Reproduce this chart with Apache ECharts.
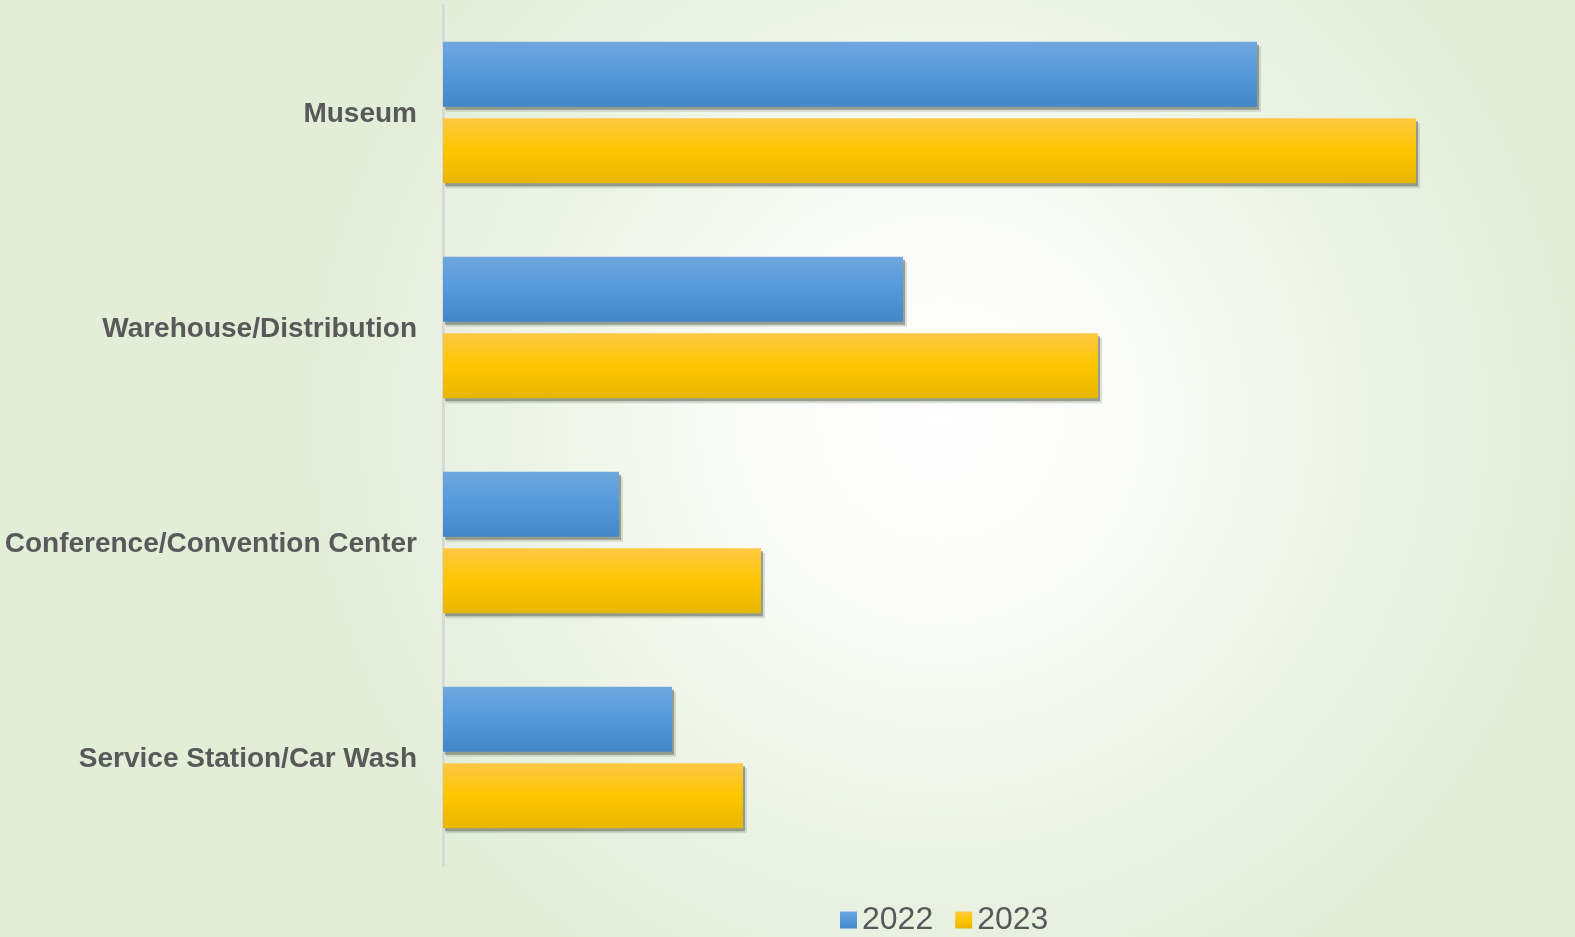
<!DOCTYPE html>
<html>
<head>
<meta charset="utf-8">
<script src="https://cdn.jsdelivr.net/npm/echarts@6/dist/echarts.min.js"></script>
<style>
  html, body { margin: 0; padding: 0; }
  #chart { width: 1575px; height: 937px; }
</style>
</head>
<body>
<div id="chart"></div>
<script>
// categories, top to bottom
const categories = ['Museum', 'Warehouse/Distribution', 'Conference/Convention Center', 'Service Station/Car Wash'];
const seriesNames = ['2022', '2023'];
// values
const values2022 = [814, 460, 176, 229];
const values2023 = [973, 655, 318, 300];

const BAR_W = 65;
const BAR_GAP = 0.18;

const chart = echarts.init(document.getElementById('chart'));

// vertical gradient for the bars
const grad = (top, mid, bottom) => new echarts.graphic.LinearGradient(0, 0, 0, 1, [
  { offset: 0, color: top },
  { offset: 0.5, color: mid },
  { offset: 1, color: bottom }
]);

const blue = grad('#6fa7de', '#5599db', '#4487c9');
const yellow = grad('#ffc845', '#ffc600', '#e7b600');

// soft drop shadow under each bar, positioned through the axes
const shadowSeries = (values, slot) => ({
  type: 'custom',
  silent: true,
  z: 1,
  data: values.map((v, i) => [v, i]),
  renderItem: (params, api) => {
    const end = api.coord([api.value(0), api.value(1)]);
    const start = api.coord([0, api.value(1)]);
    const group = BAR_W * 2 + BAR_W * BAR_GAP;
    const top = end[1] - group / 2 + slot * (BAR_W + BAR_W * BAR_GAP);
    const w = end[0] - start[0];
    return {
      type: 'group',
      children: [
        { type: 'rect', shape: { x: start[0] + 3, y: top + 5, width: w + 1, height: BAR_W },
          style: { fill: 'rgba(120, 130, 115, 0.25)' } },
        { type: 'rect', shape: { x: start[0] + 2, y: top + 3, width: w, height: BAR_W },
          style: { fill: 'rgba(95, 105, 90, 0.55)' } }
      ]
    };
  }
});

const option = {
  backgroundColor: '#e2eed8',
  graphic: [{
    type: 'rect',
    z: -10,
    silent: true,
    shape: { x: 0, y: 0, width: 1575, height: 937 },
    style: {
      fill: new echarts.graphic.RadialGradient(940, 420, 640, [
        { offset: 0, color: '#ffffff' },
        { offset: 0.35, color: '#f9fbf6' },
        { offset: 0.75, color: '#e9f2e2' },
        { offset: 1, color: '#e2eed8' }
      ], true)
    }
  }],
  legend: {
    data: seriesNames,
    top: 899,
    left: 835,
    icon: 'rect',
    itemWidth: 17,
    itemHeight: 17,
    itemGap: 22,
    textStyle: { fontSize: 32, color: '#595959', fontFamily: 'Liberation Sans' }
  },
  grid: {
    left: 443,
    right: 32,
    top: 5,
    bottom: 72
  },
  xAxis: {
    type: 'value',
    min: 0,
    max: 1100,
    show: false
  },
  yAxis: {
    type: 'category',
    data: categories,
    inverse: true,
    axisLine: { show: true, lineStyle: { color: '#d9d9d9', width: 3 } },
    axisTick: { show: false },
    axisLabel: {
      margin: 26,
      fontSize: 28,
      fontWeight: 'bold',
      color: '#595959',
      fontFamily: 'Liberation Sans',
      lineHeight: 32,
      verticalAlign: 'top',
      padding: [-14, 0, 0, 0]
    }
  },
  series: [
    shadowSeries(values2022, 0),
    shadowSeries(values2023, 1),
    {
      name: '2022',
      type: 'bar',
      z: 2,
      data: values2022,
      barWidth: BAR_W,
      barGap: BAR_GAP * 100 + '%',
      itemStyle: { color: blue }
    },
    {
      name: '2023',
      type: 'bar',
      z: 2,
      data: values2023,
      barWidth: BAR_W,
      barGap: BAR_GAP * 100 + '%',
      itemStyle: { color: yellow }
    }
  ]
};

chart.setOption(option);
</script>
</body>
</html>
